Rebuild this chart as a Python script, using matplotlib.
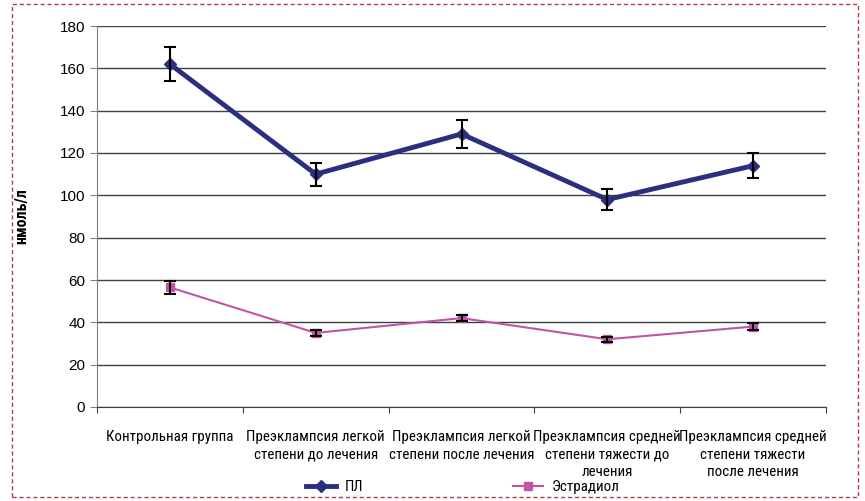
import numpy as np
import matplotlib.pyplot as plt
from matplotlib.patches import Rectangle

categories = ["Контрольная группа",
              "Преэклампсия легкой\nстепени до лечения",
              "Преэклампсия легкой\nстепени после лечения",
              "Преэклампсия средней\nстепени тяжести до\nлечения",
              "Преэклампсия средней\nстепени тяжести\nпосле лечения"]
pl = [162, 110, 129, 98, 114]
pl_err = [8, 5.5, 6.5, 5, 6]
estradiol = [56.5, 35, 42, 32, 38]
estradiol_err = [3, 1.5, 1.5, 1.2, 1.5]
yticks = [0, 20, 40, 60, 80, 100, 120, 140, 160, 180]

narrow = ["Roboto Condensed", "DejaVu Sans"]
plt.rcParams["font.family"] = ["Liberation Sans", "DejaVu Sans"]

fig = plt.figure(figsize=(8.65, 5.01), dpi=100)
ax = fig.add_axes([97/865, 1-407/501, (826-97)/865, (407-26)/501])

x = np.arange(len(categories))
ax.errorbar(x, pl, yerr=pl_err, fmt="none", ecolor="black", elinewidth=1.5,
            capsize=4, capthick=1.5, zorder=4)
ax.errorbar(x, estradiol, yerr=estradiol_err, fmt="none", ecolor="black", elinewidth=1.5,
            capsize=4, capthick=1.5, zorder=4)
ax.plot(x, pl, color="#2b2f7f", lw=3.5, marker="D", ms=6, label="ПЛ", zorder=3)
ax.plot(x, estradiol, color="#c055a8", lw=1.5, marker="s", ms=6, label="Эстрадиол", zorder=3)

ax.set_xlim(-0.5, len(categories) - 0.5)
ax.set_ylim(0, 180)
ax.set_yticks(yticks)
ax.tick_params(axis="y", labelsize=11, length=5, color="#808080", direction="out")
ax.yaxis.grid(True, color="#404040", lw=1)
ax.set_axisbelow(True)

ax.set_xticks(np.arange(len(categories) + 1) - 0.5)
ax.set_xticklabels([])
ax.tick_params(axis="x", length=4, color="#404040")
for i, c in enumerate(categories):
    ax.text(i, -11, c, ha="center", va="top", fontsize=10.8, family=narrow,
            linespacing=1.3)

for s in ["top", "right"]:
    ax.spines[s].set_visible(False)
ax.spines["left"].set_color("#808080")
ax.spines["bottom"].set_color("#404040")

ax.set_ylabel("нмоль/л", fontsize=11.5, fontweight="bold", family=narrow, labelpad=22)

fig.legend(loc="center", bbox_to_anchor=(0.535, 1-487/501), ncol=2, frameon=False,
           prop={"family": narrow, "size": 10.8}, columnspacing=10, handlelength=2.0,
           handletextpad=0.6)

fig.patches.append(Rectangle((12/865, 4/501), 846/865, 493/501, transform=fig.transFigure,
                             fill=False, ls=(0, (3, 2)), ec="#b04040", lw=1))

fig.savefig("out.png", dpi=100)
